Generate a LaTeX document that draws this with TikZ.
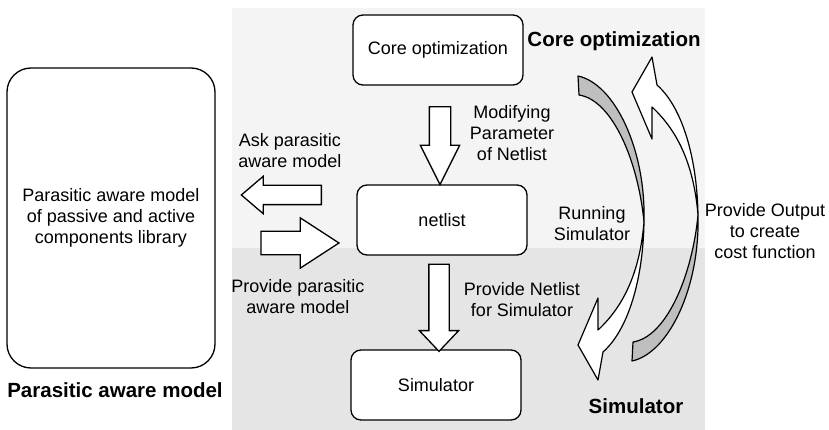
\documentclass[tikz,border=0pt]{standalone}
\usepackage{fontspec}
\setmainfont{Liberation Sans}
\usetikzlibrary{shapes.arrows,calc}

% curved ribbon arrow, drawn in pixel coordinates
\newcommand{\crescentarrow}{%
    % back face of the ribbon
    \filldraw[ribbon, fill=gray!50] (578,76) .. controls (615,84) and (646,150) .. (644,222)
        .. controls (638,160) and (612,100) .. (579,95) -- cycle;
    % front face with the head
    \filldraw[ribbon, fill=white] (644,222) .. controls (643,280) and (628,330) .. (603,352)
        -- (598,380) -- (578,345) -- (598,298) -- (598,330)
        .. controls (625,305) and (640,270) .. (644,222) -- cycle;
}

\begin{document}
\begin{tikzpicture}[x=1pt, y=-1pt,
    box/.style={draw=black, line width=1.3pt, fill=white, rounded corners=10pt,
        minimum width=170pt, minimum height=70pt, font=\fontsize{18}{21}\selectfont},
    libbox/.style={draw=black, line width=1.3pt, fill=white, rounded corners=24pt,
        minimum width=208pt, minimum height=300pt, align=center,
        font=\fontsize{18}{21}\selectfont},
    blockarrow/.style={single arrow, draw=black, line width=1.3pt, fill=white},
    note/.style={align=center, font=\fontsize{18}{21}\selectfont},
    headline/.style={anchor=base, font=\fontsize{20.5}{24}\selectfont\bfseries},
    ribbon/.style={draw=black, line width=1.2pt, line join=round}
]
    \useasboundingbox (0,0) rectangle (829,430);

    % dotted background
    \fill[gray!9] (232,8) rectangle (705,248);
    \fill[gray!20] (232,248) rectangle (705,430);

    \node[libbox] (lib) at (111,218) {Parasitic aware model\\of passive and active\\components library};
    \node[box] (core) at (438,50) {Core optimization};
    \node[box] (net) at (442,220) {netlist};
    \node[box] (sim) at (436,385) {Simulator};

    \node[blockarrow, shape border rotate=270, inner sep=10pt, minimum height=78pt,
        single arrow head extend=9pt, single arrow tip angle=53]
        (modify) at ($(core.south)!0.5!(net.north)$) {};
    \node[blockarrow, shape border rotate=270, inner sep=9.5pt, minimum height=87pt,
        single arrow head extend=9.5pt, single arrow tip angle=87]
        (feed) at ($(net.south)!0.5!(sim.north)$) {};
    \node[blockarrow, shape border rotate=180, inner sep=9pt, minimum height=80pt,
        single arrow head extend=9pt, single arrow tip angle=81]
        (ask) at (287,195) {};
    \node[blockarrow, inner sep=11pt, minimum height=78pt,
        single arrow head extend=13.5pt, single arrow tip angle=66]
        (give) at (291,243) {};

    \crescentarrow
    \begin{scope}[shift={(54,437)}, yscale=-1]
        \crescentarrow
    \end{scope}

    \node[note] (asklbl) at (290,151) {Ask parasitic\\aware model};
    \node[note] (givelbl) at (298,297) {Provide parasitic\\aware model};
    \node[note] (modlbl) at (512,133) {Modifying\\Parameter\\of Netlist};
    \node[note] (feedlbl) at (522,300) {Provide Netlist\\for Simulator};
    \node[note] (runlbl) at (592,224) {Running\\Simulator};
    \node[note] (outlbl) at (765,231) {Provide Output\\to create\\cost function};

    \node[headline] (corehd) at (614,47) {Core optimization};
    \node[headline] (simhd) at (636,413) {Simulator};
    \node[headline] (libhd) at (115,397) {Parasitic aware model};
\end{tikzpicture}
\end{document}
